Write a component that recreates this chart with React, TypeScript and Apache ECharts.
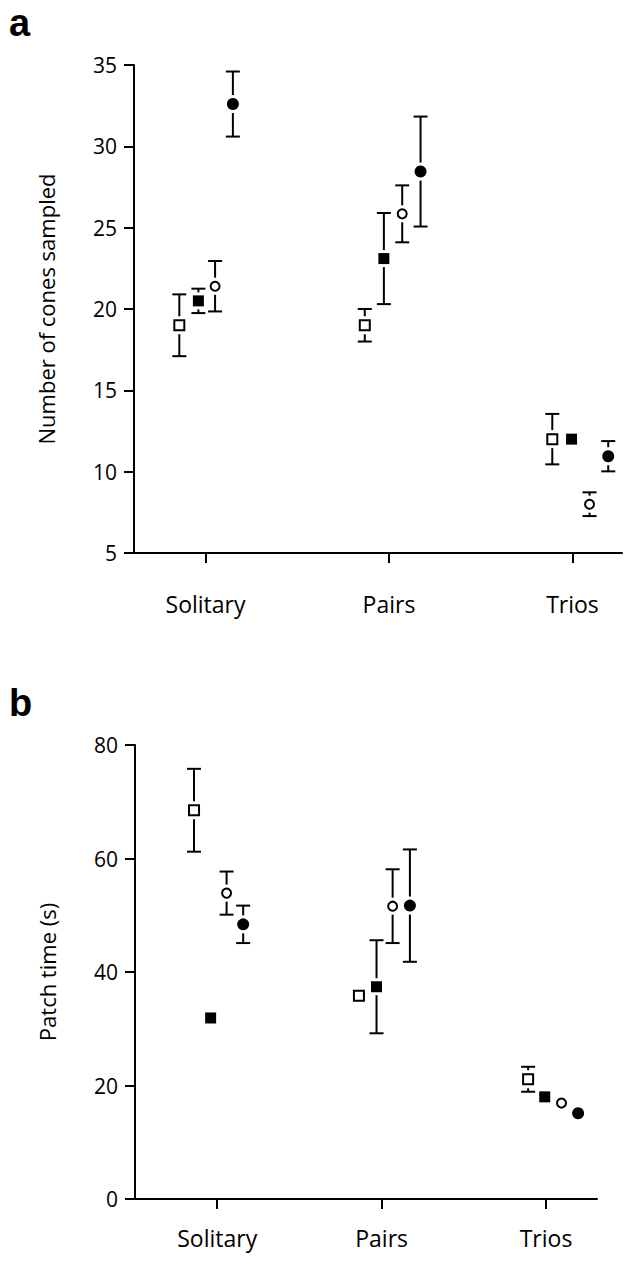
import React, { useEffect, useRef } from "react";
import * as echarts from "echarts";

// ---------- categories ----------
const categories = ["Solitary", "Pairs", "Trios"];
const groupX = [1, 2, 3];

// ---------- panel a: Number of cones sampled ----------
const conesYTicks = [5, 10, 15, 20, 25, 30, 35];
const conesOpenSquareMean = [19.0, 19.0, 12.0];
const conesOpenSquareErr = [1.9, 1.0, 1.55];
const conesFilledSquareMean = [20.5, 23.1, 12.0];
const conesFilledSquareErr = [0.75, 2.8, null];
const conesOpenCircleMean = [21.4, 25.85, 8.0];
const conesOpenCircleErr = [1.55, 1.75, 0.73];
const conesFilledCircleMean = [32.6, 28.45, 10.95];
const conesFilledCircleErr = [2.0, 3.38, 0.93];
// horizontal dodge of each marker inside its group (in category units)
const conesOpenSquareDodge = [-0.143, -0.132, -0.11];
const conesFilledSquareDodge = [-0.039, -0.028, -0.005];
const conesOpenCircleDodge = [0.052, 0.072, 0.093];
const conesFilledCircleDodge = [0.149, 0.172, 0.195];

// ---------- panel b: Patch time (s) ----------
const patchYTicks = [0, 20, 40, 60, 80];
const patchOpenSquareMean = [68.5, 35.8, 21.1];
const patchOpenSquareErr = [7.3, null, 2.2];
const patchFilledSquareMean = [31.9, 37.4, 18.0];
const patchFilledSquareErr = [null, 8.2, null];
const patchOpenCircleMean = [53.9, 51.6, 16.9];
const patchOpenCircleErr = [3.8, 6.5, null];
const patchFilledCircleMean = [48.4, 51.7, 15.1];
const patchFilledCircleErr = [3.3, 9.9, null];
const patchOpenSquareDodge = [-0.141, -0.138, -0.109];
const patchFilledSquareDodge = [-0.04, -0.031, -0.008];
const patchOpenCircleDodge = [0.057, 0.067, 0.094];
const patchFilledCircleDodge = [0.158, 0.172, 0.195];

const FONT = "Open Sans";

type Kind = { symbol: string; filled: boolean; size: number };
const OPEN_SQ: Kind = { symbol: "rect", filled: false, size: 10 };
const FILL_SQ: Kind = { symbol: "rect", filled: true, size: 11 };
const OPEN_CI: Kind = { symbol: "circle", filled: false, size: 9 };
const FILL_CI: Kind = { symbol: "circle", filled: true, size: 12 };

function makeSeries(
  gridIndex: number,
  kind: Kind,
  means: number[],
  errs: (number | null)[],
  dodge: number[]
) {
  const pts = means.map((m, i) => [groupX[i] + dodge[i], m]);
  const ebs = means
    .map((m, i) => (errs[i] == null ? null : [groupX[i] + dodge[i], m, errs[i]]))
    .filter((d) => d !== null);
  const half = (kind.size + (kind.filled ? 0 : 2)) / 2;
  return [
    {
      type: "custom",
      xAxisIndex: gridIndex,
      yAxisIndex: gridIndex,
      data: ebs,
      silent: true,
      z: 2,
      renderItem: (params: any, api: any) => {
        const x = api.value(0);
        const m = api.value(1);
        const e = api.value(2);
        const c = api.coord([x, m]);
        const hi = api.coord([x, m + e]);
        const lo = api.coord([x, m - e]);
        const gap = half + 3;
        const capW = 7;
        const st = { stroke: "#000", lineWidth: 2 };
        const children: any[] = [
          { type: "line", shape: { x1: c[0] - capW, y1: hi[1], x2: c[0] + capW, y2: hi[1] }, style: st },
          { type: "line", shape: { x1: c[0] - capW, y1: lo[1], x2: c[0] + capW, y2: lo[1] }, style: st },
        ];
        if (c[1] - gap > hi[1] + 1) {
          children.push({ type: "line", shape: { x1: c[0], y1: hi[1], x2: c[0], y2: c[1] - gap }, style: st });
        }
        if (c[1] + gap < lo[1] - 1) {
          children.push({ type: "line", shape: { x1: c[0], y1: c[1] + gap, x2: c[0], y2: lo[1] }, style: st });
        }
        return { type: "group", children };
      },
    },
    {
      type: "scatter",
      xAxisIndex: gridIndex,
      yAxisIndex: gridIndex,
      data: pts,
      symbol: kind.symbol,
      symbolSize: kind.size,
      z: 3,
      itemStyle: kind.filled
        ? { color: "#000", borderWidth: 0, opacity: 1 }
        : { color: "#fff", borderColor: "#000", borderWidth: 2, opacity: 1 },
    },
  ];
}

function xAxisFor(gridIndex: number, min: number, max: number, margin: number) {
  return {
    type: "value",
    gridIndex,
    min,
    max,
    axisLine: { show: true, onZero: false, lineStyle: { color: "#000", width: 2 } },
    axisTick: { show: true, customValues: groupX, length: 10, inside: false, lineStyle: { color: "#000", width: 2 } },
    axisLabel: {
      show: true,
      customValues: groupX,
      margin,
      formatter: (v: number) => categories[Math.round(v) - 1] ?? "",
      color: "#000",
      fontSize: 23,
      fontFamily: FONT,
    },
    splitLine: { show: false },
  };
}

function yAxisFor(gridIndex: number, ticks: number[], name: string) {
  return {
    type: "value",
    gridIndex,
    min: ticks[0],
    max: ticks[ticks.length - 1],
    interval: ticks[1] - ticks[0],
    name,
    nameLocation: "middle",
    nameGap: 77,
    nameTextStyle: { color: "#000", fontSize: 22, fontFamily: FONT },
    axisLine: { show: true, onZero: false, lineStyle: { color: "#000", width: 2 } },
    axisTick: { show: true, length: 10, inside: false, lineStyle: { color: "#000", width: 2 } },
    axisLabel: { margin: 17, color: "#000", fontSize: 21, fontFamily: FONT },
    splitLine: { show: false },
  };
}

export default function App() {
  const ref = useRef<HTMLDivElement>(null);
  useEffect(() => {
    if (!ref.current) return;
    const chart = echarts.init(ref.current, undefined, { renderer: "svg" });
    const option: any = {
      animation: false,
      backgroundColor: "#fff",
      grid: [
        { left: 134, top: 65, width: 488, height: 488 },
        { left: 135, top: 745, width: 462, height: 454 },
      ],
      xAxis: [xAxisFor(0, 0.61, 3.27, 39), xAxisFor(1, 0.5, 3.31, 27)],
      yAxis: [
        yAxisFor(0, conesYTicks, "Number of cones sampled"),
        yAxisFor(1, patchYTicks, "Patch time (s)"),
      ],
      graphic: [
        { type: "text", left: 9, top: 4, style: { text: "a", fontSize: 38, fontWeight: "bold", fontFamily: "Liberation Sans", fill: "#000" } },
        { type: "text", left: 9, top: 684, style: { text: "b", fontSize: 38, fontWeight: "bold", fontFamily: "Liberation Sans", fill: "#000" } },
      ],
      series: [
        ...makeSeries(0, OPEN_SQ, conesOpenSquareMean, conesOpenSquareErr, conesOpenSquareDodge),
        ...makeSeries(0, FILL_SQ, conesFilledSquareMean, conesFilledSquareErr, conesFilledSquareDodge),
        ...makeSeries(0, OPEN_CI, conesOpenCircleMean, conesOpenCircleErr, conesOpenCircleDodge),
        ...makeSeries(0, FILL_CI, conesFilledCircleMean, conesFilledCircleErr, conesFilledCircleDodge),
        ...makeSeries(1, OPEN_SQ, patchOpenSquareMean, patchOpenSquareErr, patchOpenSquareDodge),
        ...makeSeries(1, FILL_SQ, patchFilledSquareMean, patchFilledSquareErr, patchFilledSquareDodge),
        ...makeSeries(1, OPEN_CI, patchOpenCircleMean, patchOpenCircleErr, patchOpenCircleDodge),
        ...makeSeries(1, FILL_CI, patchFilledCircleMean, patchFilledCircleErr, patchFilledCircleDodge),
      ],
    };
    chart.setOption(option);
    return () => chart.dispose();
  }, []);
  return (
    <div
      ref={ref}
      style={{ position: "absolute", left: 0, top: 0, width: 631, height: 1264, background: "#fff" }}
    />
  );
}
